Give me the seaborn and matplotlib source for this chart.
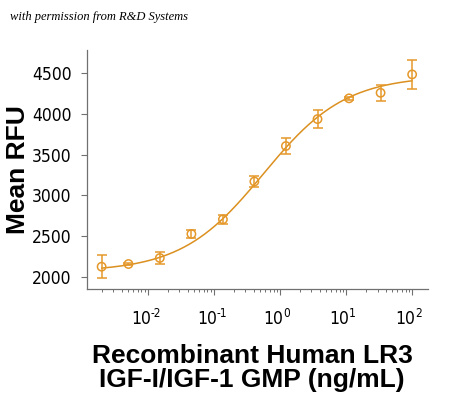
import numpy as np
import pandas as pd
import matplotlib
matplotlib.use("Agg")
import matplotlib.pyplot as plt
import matplotlib.transforms as mtransforms
import seaborn as sns
from matplotlib.ticker import LogLocator, NullFormatter, FixedLocator

# ---- data ----
conc = [0.002, 0.0051, 0.0152, 0.0457, 0.137, 0.41, 1.23, 3.7, 11.1, 33.3, 100.0]
rfu = [2123, 2156, 2230, 2525, 2705, 3170, 3606, 3937, 4192, 4260, 4486]
err = [140, 15, 70, 48, 57, 63, 100, 115, 15, 100, 175]

# 4-parameter logistic fit parameters
fit_bottom = 2060
fit_top = 4470
fit_log_ec50 = -0.25
fit_hill = 0.7

y_ticks = [2000, 2500, 3000, 3500, 4000, 4500]
x_ticks = [0.01, 0.1, 1, 10, 100]
x_tick_base = "10"
x_tick_exponents = ["-2", "-1", "0", "1", "2"]

ylabel = "Mean RFU"
xlabel = "Recombinant Human LR3\nIGF-I/IGF-1 GMP (ng/mL)"
credit = "with permission from R&D Systems"

color = "#E5982A"
line_color = "#DB9020"

sns.set_theme(style="ticks")
plt.rcParams["font.family"] = ["DejaVu Sans"]
for k in ["text.color", "axes.labelcolor", "xtick.labelcolor", "ytick.labelcolor"]:
    plt.rcParams[k] = "black"

fig = plt.figure(figsize=(4.5, 3.99), dpi=100)
ax = fig.add_axes([87 / 450, 1 - 289 / 399, (428 - 87) / 450, (289 - 50) / 399])

df = pd.DataFrame({"conc": conc, "rfu": rfu, "err": err})
xs = np.logspace(np.log10(conc[0]), np.log10(conc[-1]), 300)
fit = fit_bottom + (fit_top - fit_bottom) / (1 + 10 ** (fit_hill * (fit_log_ec50 - np.log10(xs))))
fit_df = pd.DataFrame({"conc": xs, "rfu": fit})

sns.lineplot(data=fit_df, x="conc", y="rfu", ax=ax, color=line_color, lw=1.1)
ax.errorbar(df["conc"], df["rfu"], yerr=df["err"], fmt="none", ecolor=color,
            elinewidth=1.1, capsize=3.5, capthick=1.1)
sns.scatterplot(data=df, x="conc", y="rfu", ax=ax, marker="o", s=36,
                facecolor="none", edgecolor=color, linewidth=1.1, zorder=5)

ax.set_xscale("log")
ax.set_xlim(10 ** -2.92, 10 ** 2.24)
ax.set_ylim(1849, 4786)
ax.yaxis.set_major_locator(FixedLocator(y_ticks))
ax.set_yticklabels([str(t) for t in y_ticks], fontsize=12.5, fontstretch="condensed")
ax.xaxis.set_major_locator(FixedLocator(x_ticks))
ax.set_xticklabels([""] * len(x_ticks))
ax.xaxis.set_minor_locator(LogLocator(base=10, subs=np.arange(2, 10), numticks=20))
ax.xaxis.set_minor_formatter(NullFormatter())

# x tick labels: "10" with a raised exponent, centred on each tick
trans = mtransforms.blended_transform_factory(ax.transData, ax.transAxes)
for t, e in zip(x_ticks, x_tick_exponents):
    ax.annotate(x_tick_base, xy=(t, 0), xycoords=trans, xytext=(3, -21),
                textcoords="offset pixels", ha="right", va="top",
                fontsize=12.5, fontstretch="condensed", annotation_clip=False)
    ax.annotate(e, xy=(t, 0), xycoords=trans, xytext=(3, -18),
                textcoords="offset pixels", ha="left", va="top",
                fontsize=8.5, fontstretch="condensed", annotation_clip=False)

for s in ["top", "right"]:
    ax.spines[s].set_visible(False)
for s in ["left", "bottom"]:
    ax.spines[s].set_color("#707070")
    ax.spines[s].set_linewidth(0.9)
ax.tick_params(axis="y", which="major", length=4, width=0.8, color="#707070", pad=7)
ax.tick_params(axis="x", which="major", length=4, width=0.8, color="#707070")
ax.tick_params(axis="x", which="minor", length=2.5, width=0.7, color="#707070")

ax.set_xlabel("")
ax.set_ylabel("")
fig.text(18 / 450, 1 - 170 / 399, ylabel, rotation=90, ha="center", va="center",
         fontsize=19, fontweight="bold",
         family=["Liberation Sans", "DejaVu Sans"])
fig.text(252 / 450, 1 - 368 / 399, xlabel, ha="center", va="center",
         fontsize=19, fontweight="bold",
         family=["Liberation Sans", "DejaVu Sans"], linespacing=1.05)
fig.text(10 / 450, 1 - 17 / 399, credit, ha="left", va="center", fontsize=9,
         style="italic", family=["Liberation Serif", "DejaVu Serif"])

fig.savefig("out.png", dpi=100, facecolor="white")
